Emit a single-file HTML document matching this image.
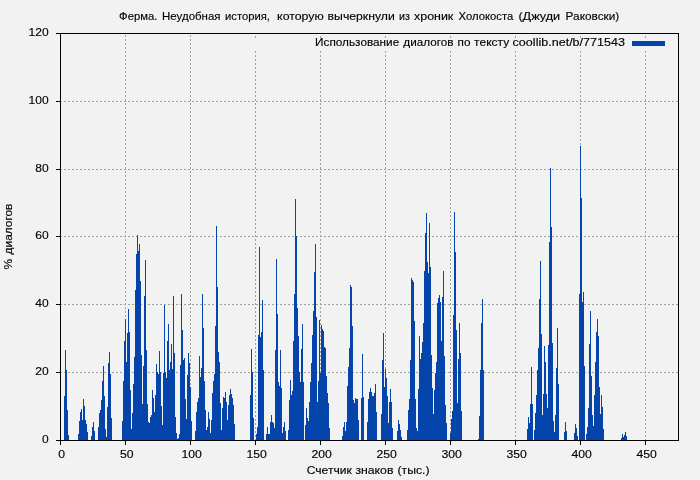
<!DOCTYPE html>
<html><head><meta charset="utf-8"><title>chart</title>
<style>html,body{margin:0;padding:0;background:#f2f2f2;}svg{display:block;font-family:"Liberation Sans",sans-serif;}</style>
</head><body>
<svg width="700" height="480" viewBox="0 0 700 480">
<rect x="0" y="0" width="700" height="480" fill="#f2f2f2"/>
<g stroke="#a0a0a0" stroke-width="1" stroke-dasharray="2 2" shape-rendering="crispEdges"><line x1="125.5" y1="441" x2="125.5" y2="34"/><line x1="190.5" y1="441" x2="190.5" y2="34"/><line x1="255.5" y1="441" x2="255.5" y2="50"/><line x1="255.5" y1="38" x2="255.5" y2="34"/><line x1="320.5" y1="441" x2="320.5" y2="50"/><line x1="320.5" y1="38" x2="320.5" y2="34"/><line x1="385.5" y1="441" x2="385.5" y2="50"/><line x1="385.5" y1="38" x2="385.5" y2="34"/><line x1="450.5" y1="441" x2="450.5" y2="50"/><line x1="450.5" y1="38" x2="450.5" y2="34"/><line x1="515.5" y1="441" x2="515.5" y2="50"/><line x1="515.5" y1="38" x2="515.5" y2="34"/><line x1="580.5" y1="441" x2="580.5" y2="50"/><line x1="580.5" y1="38" x2="580.5" y2="34"/><line x1="645.5" y1="441" x2="645.5" y2="50"/><line x1="645.5" y1="38" x2="645.5" y2="34"/><line x1="60" y1="372.5" x2="678" y2="372.5"/><line x1="60" y1="304.5" x2="678" y2="304.5"/><line x1="60" y1="236.5" x2="678" y2="236.5"/><line x1="60" y1="169.5" x2="678" y2="169.5"/><line x1="60" y1="101.5" x2="678" y2="101.5"/></g>
<path d="M64 440V396h1V440zM65 440V350h1V440zM66 440V370h1V440zM67 440V410h1V440zM68 440V435h1V440zM78 440V434h1V440zM79 440V421h1V440zM80 440V412h1V440zM81 440V409h1V440zM82 440V420h1V440zM83 440V399h1V440zM84 440V406h1V440zM85 440V420h1V440zM86 440V424h1V440zM87 440V432h1V440zM91 440V436h1V440zM92 440V427h1V440zM93 440V422h1V440zM94 440V431h1V440zM98 440V427h1V440zM99 440V413h1V440zM100 440V410h1V440zM101 440V400h1V440zM102 440V381h1V440zM103 440V366h1V440zM104 440V396h1V440zM105 440V429h1V440zM106 440V437h1V440zM107 440V407h1V440zM108 440V363h1V440zM109 440V352h1V440zM110 440V374h1V440zM111 440V418h1V440zM122 440V421h1V440zM123 440V381h1V440zM124 440V341h1V440zM125 440V319h1V440zM126 440V362h1V440zM127 440V333h1V440zM128 440V309h1V440zM129 440V332h1V440zM130 440V390h1V440zM131 440V429h1V440zM132 440V413h1V440zM133 440V384h1V440zM134 440V357h1V440zM135 440V290h1V440zM136 440V254h1V440zM137 440V235h1V440zM138 440V251h1V440zM139 440V244h1V440zM140 440V281h1V440zM141 440V355h1V440zM142 440V404h1V440zM143 440V366h1V440zM144 440V296h1V440zM145 440V260h1V440zM146 440V350h1V440zM147 440V404h1V440zM148 440V422h1V440zM149 440V423h1V440zM150 440V417h1V440zM151 440V415h1V440zM152 440V390h1V440zM153 440V398h1V440zM154 440V412h1V440zM155 440V395h1V440zM156 440V364h1V440zM157 440V372h1V440zM158 440V374h1V440zM159 440V351h1V440zM160 440V372h1V440zM161 440V406h1V440zM162 440V425h1V440zM163 440V373h1V440zM164 440V305h1V440zM165 440V372h1V440zM166 440V378h1V440zM167 440V341h1V440zM168 440V324h1V440zM169 440V370h1V440zM170 440V362h1V440zM171 440V344h1V440zM172 440V369h1V440zM173 440V296h1V440zM174 440V353h1V440zM175 440V417h1V440zM176 440V433h1V440zM177 440V439h1V440zM178 440V438h1V440zM179 440V434h1V440zM180 440V365h1V440zM181 440V294h1V440zM182 440V330h1V440zM183 440V360h1V440zM184 440V358h1V440zM185 440V399h1V440zM186 440V419h1V440zM187 440V375h1V440zM188 440V353h1V440zM189 440V363h1V440zM190 440V387h1V440zM191 440V421h1V440zM195 440V431h1V440zM196 440V412h1V440zM197 440V402h1V440zM198 440V398h1V440zM199 440V356h1V440zM200 440V377h1V440zM201 440V368h1V440zM202 440V294h1V440zM203 440V328h1V440zM204 440V381h1V440zM205 440V410h1V440zM206 440V430h1V440zM207 440V427h1V440zM208 440V412h1V440zM209 440V419h1V440zM210 440V433h1V440zM211 440V420h1V440zM212 440V393h1V440zM213 440V381h1V440zM214 440V374h1V440zM215 440V326h1V440zM216 440V226h1V440zM217 440V287h1V440zM218 440V352h1V440zM219 440V362h1V440zM220 440V403h1V440zM221 440V430h1V440zM222 440V408h1V440zM223 440V397h1V440zM224 440V398h1V440zM225 440V392h1V440zM226 440V402h1V440zM227 440V420h1V440zM228 440V405h1V440zM229 440V395h1V440zM230 440V389h1V440zM231 440V394h1V440zM232 440V398h1V440zM233 440V405h1V440zM234 440V424h1V440zM250 440V395h1V440zM251 440V349h1V440zM252 440V372h1V440zM253 440V418h1V440zM256 440V434h1V440zM257 440V427h1V440zM258 440V335h1V440zM259 440V247h1V440zM260 440V337h1V440zM261 440V332h1V440zM262 440V300h1V440zM263 440V370h1V440zM266 440V434h1V440zM267 440V427h1V440zM268 440V434h1V440zM269 440V434h1V440zM270 440V422h1V440zM271 440V415h1V440zM272 440V422h1V440zM273 440V423h1V440zM274 440V428h1V440zM275 440V350h1V440zM276 440V259h1V440zM277 440V314h1V440zM278 440V382h1V440zM279 440V386h1V440zM280 440V350h1V440zM281 440V388h1V440zM282 440V433h1V440zM283 440V427h1V440zM284 440V422h1V440zM285 440V431h1V440zM288 440V430h1V440zM289 440V400h1V440zM290 440V380h1V440zM291 440V395h1V440zM292 440V391h1V440zM293 440V341h1V440zM294 440V294h1V440zM295 440V199h1V440zM296 440V236h1V440zM297 440V308h1V440zM298 440V336h1V440zM299 440V372h1V440zM300 440V382h1V440zM301 440V349h1V440zM302 440V324h1V440zM303 440V382h1V440zM305 440V425h1V440zM306 440V408h1V440zM307 440V418h1V440zM308 440V421h1V440zM309 440V402h1V440zM310 440V382h1V440zM311 440V363h1V440zM312 440V335h1V440zM313 440V311h1V440zM314 440V272h1V440zM315 440V244h1V440zM316 440V317h1V440zM317 440V402h1V440zM318 440V381h1V440zM319 440V320h1V440zM320 440V373h1V440zM321 440V325h1V440zM322 440V329h1V440zM323 440V331h1V440zM324 440V347h1V440zM325 440V348h1V440zM326 440V376h1V440zM327 440V393h1V440zM328 440V403h1V440zM329 440V428h1V440zM342 440V436h1V440zM343 440V427h1V440zM344 440V422h1V440zM345 440V431h1V440zM346 440V422h1V440zM347 440V386h1V440zM348 440V367h1V440zM349 440V348h1V440zM350 440V285h1V440zM351 440V287h1V440zM352 440V326h1V440zM353 440V400h1V440zM354 440V403h1V440zM355 440V398h1V440zM356 440V399h1V440zM357 440V399h1V440zM358 440V420h1V440zM361 440V398h1V440zM362 440V354h1V440zM363 440V397h1V440zM367 440V422h1V440zM368 440V399h1V440zM369 440V392h1V440zM370 440V388h1V440zM371 440V392h1V440zM372 440V396h1V440zM373 440V396h1V440zM374 440V393h1V440zM375 440V384h1V440zM376 440V412h1V440zM381 440V414h1V440zM382 440V360h1V440zM383 440V333h1V440zM384 440V387h1V440zM385 440V369h1V440zM386 440V378h1V440zM387 440V396h1V440zM388 440V423h1V440zM389 440V402h1V440zM390 440V389h1V440zM391 440V402h1V440zM392 440V428h1V440zM397 440V431h1V440zM398 440V420h1V440zM399 440V424h1V440zM400 440V430h1V440zM401 440V437h1V440zM407 440V430h1V440zM408 440V410h1V440zM409 440V399h1V440zM410 440V360h1V440zM411 440V278h1V440zM412 440V280h1V440zM413 440V282h1V440zM414 440V321h1V440zM415 440V399h1V440zM416 440V428h1V440zM417 440V431h1V440zM418 440V389h1V440zM419 440V336h1V440zM420 440V359h1V440zM421 440V353h1V440zM422 440V342h1V440zM423 440V323h1V440zM424 440V271h1V440zM425 440V233h1V440zM426 440V213h1V440zM427 440V262h1V440zM428 440V273h1V440zM429 440V223h1V440zM430 440V267h1V440zM431 440V355h1V440zM432 440V388h1V440zM433 440V414h1V440zM434 440V390h1V440zM435 440V373h1V440zM436 440V362h1V440zM437 440V303h1V440zM438 440V298h1V440zM439 440V295h1V440zM440 440V302h1V440zM441 440V341h1V440zM442 440V297h1V440zM443 440V271h1V440zM444 440V356h1V440zM445 440V405h1V440zM446 440V423h1V440zM450 440V433h1V440zM451 440V419h1V440zM452 440V411h1V440zM453 440V315h1V440zM454 440V212h1V440zM455 440V252h1V440zM456 440V330h1V440zM457 440V403h1V440zM458 440V359h1V440zM459 440V323h1V440zM460 440V353h1V440zM461 440V411h1V440zM478 440V439h1V440zM479 440V416h1V440zM480 440V370h1V440zM481 440V323h1V440zM482 440V299h1V440zM483 440V370h1V440zM527 440V429h1V440zM528 440V417h1V440zM529 440V423h1V440zM530 440V404h1V440zM531 440V367h1V440zM532 440V404h1V440zM534 440V430h1V440zM535 440V413h1V440zM536 440V395h1V440zM537 440V370h1V440zM538 440V348h1V440zM539 440V299h1V440zM540 440V261h1V440zM541 440V334h1V440zM542 440V415h1V440zM543 440V394h1V440zM544 440V346h1V440zM545 440V362h1V440zM546 440V394h1V440zM547 440V408h1V440zM548 440V345h1V440zM549 440V242h1V440zM550 440V168h1V440zM551 440V227h1V440zM552 440V343h1V440zM553 440V421h1V440zM554 440V432h1V440zM555 440V415h1V440zM556 440V368h1V440zM557 440V328h1V440zM558 440V384h1V440zM564 440V432h1V440zM565 440V422h1V440zM566 440V431h1V440zM574 440V433h1V440zM575 440V424h1V440zM576 440V428h1V440zM577 440V436h1V440zM579 440V294h1V440zM580 440V146h1V440zM581 440V198h1V440zM582 440V302h1V440zM583 440V292h1V440zM584 440V366h1V440zM586 440V434h1V440zM587 440V427h1V440zM588 440V408h1V440zM589 440V344h1V440zM590 440V311h1V440zM591 440V376h1V440zM592 440V415h1V440zM593 440V426h1V440zM594 440V395h1V440zM595 440V362h1V440zM596 440V332h1V440zM597 440V319h1V440zM598 440V336h1V440zM599 440V387h1V440zM600 440V414h1V440zM601 440V395h1V440zM602 440V407h1V440zM603 440V429h1V440zM621 440V438h1V440zM622 440V434h1V440zM623 440V437h1V440zM624 440V435h1V440zM625 440V432h1V440zM626 440V436h1V440z" fill="#0544aa" shape-rendering="crispEdges"/>
<rect x="632" y="41" width="33" height="5" fill="#0544aa" shape-rendering="crispEdges"/>
<g stroke="#000" stroke-width="1" shape-rendering="crispEdges"><rect x="60.5" y="33.5" width="618" height="407" fill="none"/><line x1="60.5" y1="440" x2="60.5" y2="445"/><line x1="125.5" y1="440" x2="125.5" y2="445"/><line x1="190.5" y1="440" x2="190.5" y2="445"/><line x1="255.5" y1="440" x2="255.5" y2="445"/><line x1="320.5" y1="440" x2="320.5" y2="445"/><line x1="385.5" y1="440" x2="385.5" y2="445"/><line x1="450.5" y1="440" x2="450.5" y2="445"/><line x1="515.5" y1="440" x2="515.5" y2="445"/><line x1="580.5" y1="440" x2="580.5" y2="445"/><line x1="645.5" y1="440" x2="645.5" y2="445"/><line x1="56" y1="440.5" x2="60" y2="440.5"/><line x1="56" y1="372.5" x2="60" y2="372.5"/><line x1="56" y1="304.5" x2="60" y2="304.5"/><line x1="56" y1="236.5" x2="60" y2="236.5"/><line x1="56" y1="169.5" x2="60" y2="169.5"/><line x1="56" y1="101.5" x2="60" y2="101.5"/><line x1="56" y1="33.5" x2="60" y2="33.5"/></g>
<g font-family="'Liberation Sans', sans-serif" font-size="11.2" fill="#000" stroke="#000" stroke-width="0.15" opacity="0.999"><text x="119.1" y="20" text-anchor="start" textLength="38.4" lengthAdjust="spacingAndGlyphs">Ферма.</text><text x="162.1" y="20" text-anchor="start" textLength="58.4" lengthAdjust="spacingAndGlyphs">Неудобная</text><text x="225.1" y="20" text-anchor="start" textLength="44.9" lengthAdjust="spacingAndGlyphs">история,</text><text x="277.1" y="20" text-anchor="start" textLength="46.7" lengthAdjust="spacingAndGlyphs">которую</text><text x="327.6" y="20" text-anchor="start" textLength="67.2" lengthAdjust="spacingAndGlyphs">вычеркнули</text><text x="399.1" y="20" text-anchor="start" textLength="10.9" lengthAdjust="spacingAndGlyphs">из</text><text x="414.0" y="20" text-anchor="start" textLength="39.3" lengthAdjust="spacingAndGlyphs">хроник</text><text x="458.6" y="20" text-anchor="start" textLength="54.7" lengthAdjust="spacingAndGlyphs">Холокоста</text><text x="518.4" y="20" text-anchor="start" textLength="41.8" lengthAdjust="spacingAndGlyphs">(Джуди</text><text x="565.6" y="20" text-anchor="start" textLength="53.7" lengthAdjust="spacingAndGlyphs">Раковски)</text><text x="315.1" y="46" text-anchor="start" textLength="84.15" lengthAdjust="spacingAndGlyphs">Использование</text><text x="403.35" y="46" text-anchor="start" textLength="50.15" lengthAdjust="spacingAndGlyphs">диалогов</text><text x="457.6" y="46" text-anchor="start" textLength="12.9" lengthAdjust="spacingAndGlyphs">по</text><text x="474.1" y="46" text-anchor="start" textLength="35.15" lengthAdjust="spacingAndGlyphs">тексту</text><text x="512.6" y="46" text-anchor="start" textLength="112.4" lengthAdjust="spacingAndGlyphs">coollib.net/b/771543</text><text x="61.7" y="458" text-anchor="middle" textLength="6.8" lengthAdjust="spacingAndGlyphs">0</text><text x="126.7" y="458" text-anchor="middle" textLength="13.6" lengthAdjust="spacingAndGlyphs">50</text><text x="191.7" y="458" text-anchor="middle" textLength="20.4" lengthAdjust="spacingAndGlyphs">100</text><text x="256.7" y="458" text-anchor="middle" textLength="20.4" lengthAdjust="spacingAndGlyphs">150</text><text x="321.7" y="458" text-anchor="middle" textLength="20.4" lengthAdjust="spacingAndGlyphs">200</text><text x="386.7" y="458" text-anchor="middle" textLength="20.4" lengthAdjust="spacingAndGlyphs">250</text><text x="451.7" y="458" text-anchor="middle" textLength="20.4" lengthAdjust="spacingAndGlyphs">300</text><text x="516.7" y="458" text-anchor="middle" textLength="20.4" lengthAdjust="spacingAndGlyphs">350</text><text x="581.7" y="458" text-anchor="middle" textLength="20.4" lengthAdjust="spacingAndGlyphs">400</text><text x="646.7" y="458" text-anchor="middle" textLength="20.4" lengthAdjust="spacingAndGlyphs">450</text><text x="48.7" y="443" text-anchor="end" textLength="6.7" lengthAdjust="spacingAndGlyphs">0</text><text x="48.7" y="375" text-anchor="end" textLength="13.4" lengthAdjust="spacingAndGlyphs">20</text><text x="48.7" y="307" text-anchor="end" textLength="13.4" lengthAdjust="spacingAndGlyphs">40</text><text x="48.7" y="239" text-anchor="end" textLength="13.4" lengthAdjust="spacingAndGlyphs">60</text><text x="48.7" y="172" text-anchor="end" textLength="13.4" lengthAdjust="spacingAndGlyphs">80</text><text x="48.7" y="104" text-anchor="end" textLength="20.1" lengthAdjust="spacingAndGlyphs">100</text><text x="48.7" y="36" text-anchor="end" textLength="20.1" lengthAdjust="spacingAndGlyphs">120</text><text x="306.7" y="474" text-anchor="start" textLength="45.1" lengthAdjust="spacingAndGlyphs">Счетчик</text><text x="355.4" y="474" text-anchor="start" textLength="38.0" lengthAdjust="spacingAndGlyphs">знаков</text><text x="397.5" y="474" text-anchor="start" textLength="32.0" lengthAdjust="spacingAndGlyphs">(тыс.)</text><text transform="translate(12,269.4) rotate(-90)" textLength="10.6" lengthAdjust="spacingAndGlyphs">%</text><text transform="translate(12,254.4) rotate(-90)" textLength="50.8" lengthAdjust="spacingAndGlyphs">диалогов</text></g>
</svg>
</body></html>
